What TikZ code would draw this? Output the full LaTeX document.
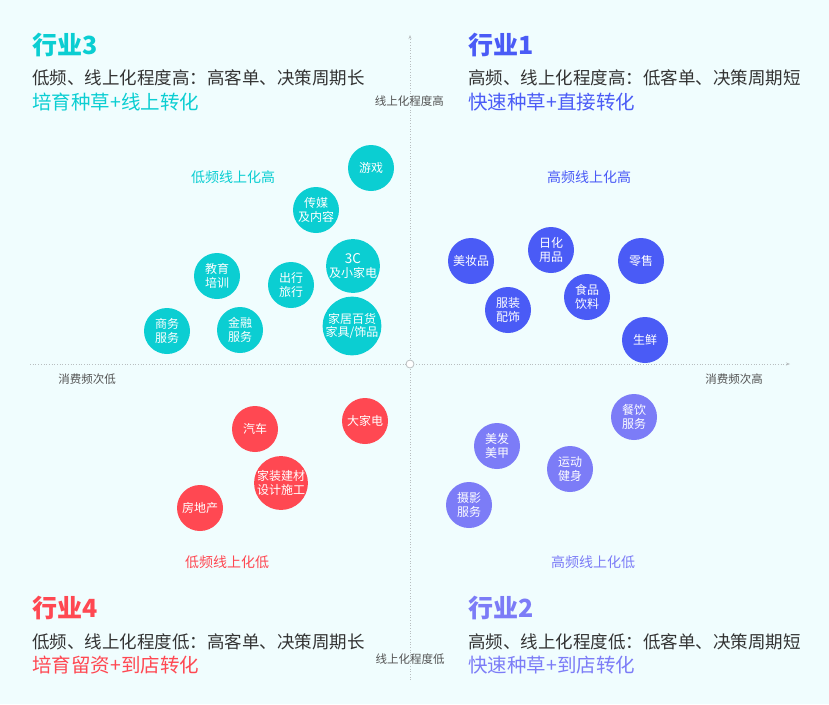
\documentclass[tikz,border=0pt]{standalone}
\usepackage{fontspec}
\setmainfont{Noto Sans CJK SC}
\usetikzlibrary{arrows.meta}
\definecolor{bg}{HTML}{F0FDFE}
\definecolor{hcyan}{HTML}{0BCED2}
\definecolor{hblue}{HTML}{4A5BF6}
\definecolor{hred}{HTML}{FF4852}
\definecolor{hpurple}{HTML}{7C7CF7}
\definecolor{ink}{HTML}{333333}
\definecolor{axisgray}{HTML}{B8BEC0}
\tikzset{
  dot/.style={circle, inner sep=0pt, minimum size=46pt, text=white, align=center,
    font=\fontsize{12}{13.5}\selectfont},
  bigdot/.style={dot, minimum size=54pt},
  title/.style={anchor=west, inner sep=0pt, font=\fontsize{25}{28}\selectfont\bfseries},
  desc/.style={anchor=west, inner sep=0pt, text=ink, font=\fontsize{17.5}{20}\selectfont},
  plan/.style={anchor=west, inner sep=0pt, font=\fontsize{19.5}{22}\selectfont},
  zone/.style={inner sep=0pt, font=\fontsize{14}{16}\selectfont},
  axislabel/.style={inner sep=0pt, text=ink!85, font=\fontsize{11.5}{13}\selectfont},
  axis/.style={draw=axisgray, dotted, line width=0.7pt}
}
\begin{document}
\begin{tikzpicture}[x=1pt, y=-1pt, >={Stealth[length=4pt, width=3pt]}]
            \fill[bg] (0,0) rectangle (829,704);
            \useasboundingbox (0,0) rectangle (829,704);

            % axes
            \coordinate (xl) at (30,364);
            \coordinate (xr) at (790,364);
            \coordinate (yt) at (410,35);
            \coordinate (yb) at (410,680);
            \draw[axis, ->, axisgray] (xl) -- (xr);
            \draw[axis, ->, axisgray] (yb) -- (yt);
            \node[circle, draw=axisgray, fill=white, line width=0.8pt, minimum size=8pt, inner sep=0pt] (o) at (410,364) {};

            \node[axislabel, anchor=east] (up) at (444,101) {线上化程度高};
            \node[axislabel] (down) at (410,659) {线上化程度低};
            \node[axislabel] (low) at (87,379) {消费频次低};
            \node[axislabel] (high) at (734,379) {消费频次高};

            % quadrant titles
            \node[title, text=hcyan] (t3) at (32,45) {行业3};
            \node[desc] (d3) at (32,78) {低频、线上化程度高：高客单、决策周期长};
            \node[plan, text=hcyan] (p3) at (32,102) {培育种草+线上转化};

            \node[title, text=hblue] (t1) at (468,45) {行业1};
            \node[desc] (d1) at (468,78) {高频、线上化程度高：低客单、决策周期短};
            \node[plan, text=hblue] (p1) at (468,102) {快速种草+直接转化};

            \node[title, text=hred] (t4) at (32,608) {行业4};
            \node[desc] (d4) at (32,642) {低频、线上化程度低：高客单、决策周期长};
            \node[plan, text=hred] (p4) at (32,665) {培育留资+到店转化};

            \node[title, text=hpurple] (t2) at (468,608) {行业2};
            \node[desc] (d2) at (468,642) {高频、线上化程度低：低客单、决策周期短};
            \node[plan, text=hpurple] (p2) at (468,665) {快速种草+到店转化};

            \node[zone, text=hcyan] (z3) at (233,177) {低频线上化高};
            \node[zone, text=hblue] (z1) at (589,177) {高频线上化高};
            \node[zone, text=hred] (z4) at (227,562) {低频线上化低};
            \node[zone, text=hpurple] (z2) at (593,562) {高频线上化低};

            % low frequency, high online
            \node[dot, fill=hcyan] (game) at (371,168) {游戏};
            \node[dot, fill=hcyan] (media) at (316,210) {传媒\\及内容};
            \node[dot, fill=hcyan] (edu) at (217,276) {教育\\培训};
            \node[dot, fill=hcyan] (travel) at (291,285) {出行\\旅行};
            \node[dot, fill=hcyan] (tech) at (353,266) {{\fontsize{13.5}{14}\selectfont 3C}\\及小家电};
            \node[dot, fill=hcyan] (biz) at (167,331) {商务\\服务};
            \node[dot, fill=hcyan] (fin) at (240,330) {金融\\服务};
            \node[bigdot, fill=hcyan] (home) at (352,326) {家居百货\\家具/饰品};

            % high frequency, high online
            \node[dot, fill=hblue] (beauty) at (471,261) {美妆品};
            \node[dot, fill=hblue] (daily) at (551,250) {日化\\用品};
            \node[dot, fill=hblue] (retail) at (641,261) {零售};
            \node[dot, fill=hblue] (cloth) at (508,310) {服装\\配饰};
            \node[dot, fill=hblue] (food) at (587,297) {食品\\饮料};
            \node[dot, fill=hblue] (fresh) at (645,340) {生鲜};

            % low frequency, low online
            \node[dot, fill=hred] (car) at (255,429) {汽车};
            \node[dot, fill=hred] (appl) at (365,421) {大家电};
            \node[bigdot, minimum size=50pt, fill=hred] (deco) at (281,483) {家装建材\\设计施工};
            \node[dot, fill=hred] (estate) at (200,508) {房地产};

            % high frequency, low online
            \node[dot, fill=hpurple] (dine) at (634,417) {餐饮\\服务};
            \node[dot, fill=hpurple] (hair) at (497,446) {美发\\美甲};
            \node[dot, fill=hpurple] (sport) at (570,469) {运动\\健身};
            \node[dot, fill=hpurple] (photo) at (469,505) {摄影\\服务};

        \end{tikzpicture}
\end{document}
